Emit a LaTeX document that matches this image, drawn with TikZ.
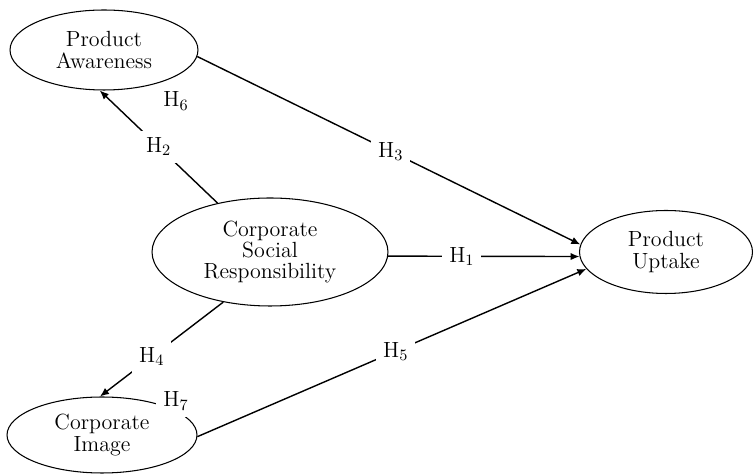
\documentclass[tikz,border=0pt]{standalone}
\usetikzlibrary{arrows.meta, shapes.geometric}
\tikzset{
  every picture/.style={line width=0.6pt},
  construct/.style={draw, ellipse, inner sep=0pt, align=center, font=\fontsize{12.5}{12}\selectfont},
  link/.style={-{Latex[length=1.8mm,width=1.5mm]}, line width=0.8pt},
  hyp/.style={fill=white, inner sep=4pt, font=\fontsize{12.5}{12}\selectfont},
}

\begin{document}
\begin{tikzpicture}[x=0.02cm, y=-0.02cm]
  \useasboundingbox (0,0) rectangle (754,475);
  % constructs
  \node[construct, minimum width=3.76cm, minimum height=1.6cm] (pa) at (104,50) {Product\\Awareness};
  \node[construct, minimum width=4.72cm, minimum height=2.16cm] (csr) at (270,252) {Corporate\\Social\\Responsibility};
  \node[construct, minimum width=3.8cm, minimum height=1.52cm] (ci) at (102,435) {Corporate\\Image};
  \node[construct, minimum width=3.46cm, minimum height=1.66cm] (pu) at (666,252) {Product\\Uptake};
  % hypotheses
  \draw[link] (pa.-4) -- node[hyp, pos=0.505] (h3) {H$_3$} (pu.175);
  \draw[link] (csr.-2) -- node[hyp, pos=0.385] (h1) {H$_1$} (pu.183);
  \draw[link] (ci.-1) -- node[hyp, pos=0.51] (h5) {H$_5$} (pu.192);
  \draw[link] (csr.137) -- node[hyp, pos=0.5] (h2) {H$_2$} (pa.264);
  \draw[link] (csr.227) -- node[hyp, pos=0.58] (h4) {H$_4$} (ci.93);
  \node[hyp] (h6) at (176,101) {H$_6$};
  \node[hyp] (h7) at (176,401) {H$_7$};
\end{tikzpicture}
\end{document}
